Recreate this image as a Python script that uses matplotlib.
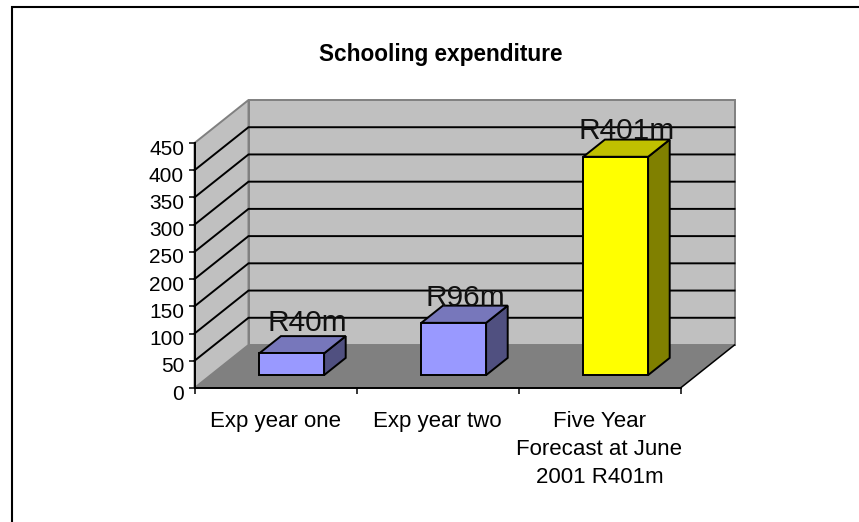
import matplotlib
matplotlib.use("Agg")
import matplotlib.pyplot as plt
from matplotlib.patches import Polygon
from matplotlib.lines import Line2D
from matplotlib.transforms import ScaledTranslation

categories = ["Exp year one", "Exp year two", "Five Year\nForecast at June\n2001 R401m"]
values = [40, 96, 401]
bar_labels = ["R40m", "R96m", "R401m"]
yticks = [0, 50, 100, 150, 200, 250, 300, 350, 400, 450]
title = "Schooling expenditure"

W, H = 859, 522
plt.rcParams["font.family"] = ["Liberation Sans", "DejaVu Sans"]
fig = plt.figure(figsize=(W / 100, H / 100), dpi=100, facecolor="white")

# frame of the chart area (no right edge in view)
fig.add_artist(Line2D([12 / W, 12 / W, 1], [0, 1 - 7 / H, 1 - 7 / H], color="black", lw=1.5,
                      solid_joinstyle="miter", solid_capstyle="butt"))

L, R, T, B = 194.5, 680.5, 143.0, 388.0
ax = fig.add_axes([L / W, 1 - B / H, (R - L) / W, (B - T) / H], facecolor="none")
ax.set_xlim(0, 3)
ax.set_ylim(0, 450)
for s in ("top", "right"):
    ax.spines[s].set_visible(False)
for s in ("left", "bottom"):
    ax.spines[s].set_linewidth(1.4)
    ax.spines[s].set_zorder(2.5)

# oblique depth of the box, in data units
DX = 54 / 162
DY = 43 / (245 / 450)


def pr(x, y, d=0.0):
    return (x + d * DX, y + d * DY)


def poly(pts, fc, ec="none", lw=0.0, z=1):
    ax.add_patch(Polygon(pts, closed=True, facecolor=fc, edgecolor=ec, lw=lw, zorder=z,
                         clip_on=False, joinstyle="miter"))


wall_ec = "#808080"
poly([pr(0, 0, 1), pr(3, 0, 1), pr(3, 450, 1), pr(0, 450, 1)], "#C0C0C0", wall_ec, 1.4, 1)
poly([pr(0, 0, 0), pr(0, 0, 1), pr(0, 450, 1), pr(0, 450, 0)], "#C0C0C0", wall_ec, 1.4, 1)
poly([pr(0, 0, 0), pr(3, 0, 0), pr(3, 0, 1), pr(0, 0, 1)], "#808080", "none", 0, 1.5)
ax.plot(*zip(pr(3, 0, 0), pr(3, 0, 1)), color="black", lw=1.1, clip_on=False, zorder=1.6)

# gridlines: none at the top of the box
for v in yticks[1:-1]:
    ax.plot(*zip(pr(0, v, 0), pr(0, v, 1), pr(3, v, 1)), color="black", lw=1.4, clip_on=False,
            zorder=2, solid_joinstyle="miter")

face = ["#9999FF", "#9999FF", "#FFFF00"]
top = ["#7777BB", "#7777BB", "#C0C000"]
side = ["#505080", "#505080", "#808000"]
label_nudge = [(5, 7), (1, 1), (0, 2)]
hw = 0.2
d0, d1 = 0.3, 0.7
for i, v in enumerate(values):
    x0, x1 = i + 0.5 - hw, i + 0.5 + hw
    poly([pr(x1, 0, d0), pr(x1, 0, d1), pr(x1, v, d1), pr(x1, v, d0)], side[i], "black", 1.4, 3)
    poly([pr(x0, v, d0), pr(x1, v, d0), pr(x1, v, d1), pr(x0, v, d1)], top[i], "black", 1.4, 3)
    poly([pr(x0, 0, d0), pr(x1, 0, d0), pr(x1, v, d0), pr(x0, v, d0)], face[i], "black", 1.4, 3)
    tx, ty = pr(i + 0.5, v, 0.5)
    ax.annotate(bar_labels[i], (tx, ty), xytext=(label_nudge[i][0], 1 + label_nudge[i][1]),
                textcoords="offset pixels", ha="center", va="bottom", fontsize=21.5, color="#111111",
                zorder=4, annotation_clip=False)

ax.set_yticks(yticks)
ax.set_yticklabels([str(v) for v in yticks], fontsize=15)
ax.set_xticks([0, 1, 2, 3])
ax.set_xticklabels([])
ax.set_xticks([0.5, 1.5, 2.5], minor=True)
ax.set_xticklabels(categories, minor=True, fontsize=16, linespacing=1.45, va="top", ha="center")
ax.tick_params(axis="x", which="minor", length=0, pad=16.5)
ax.tick_params(axis="both", which="major", length=4, width=1.1, pad=3.5)

# y tick labels sit a little below their ticks
down = ScaledTranslation(0, -4 / 100, fig.dpi_scale_trans)
for lab in ax.get_yticklabels():
    lab.set_transform(lab.get_transform() + down)

fig.text(440.5 / W, 1 - 55 / H, title, ha="center", va="center", fontsize=16.3, fontweight="bold")

fig.savefig("out.png", dpi=100)
